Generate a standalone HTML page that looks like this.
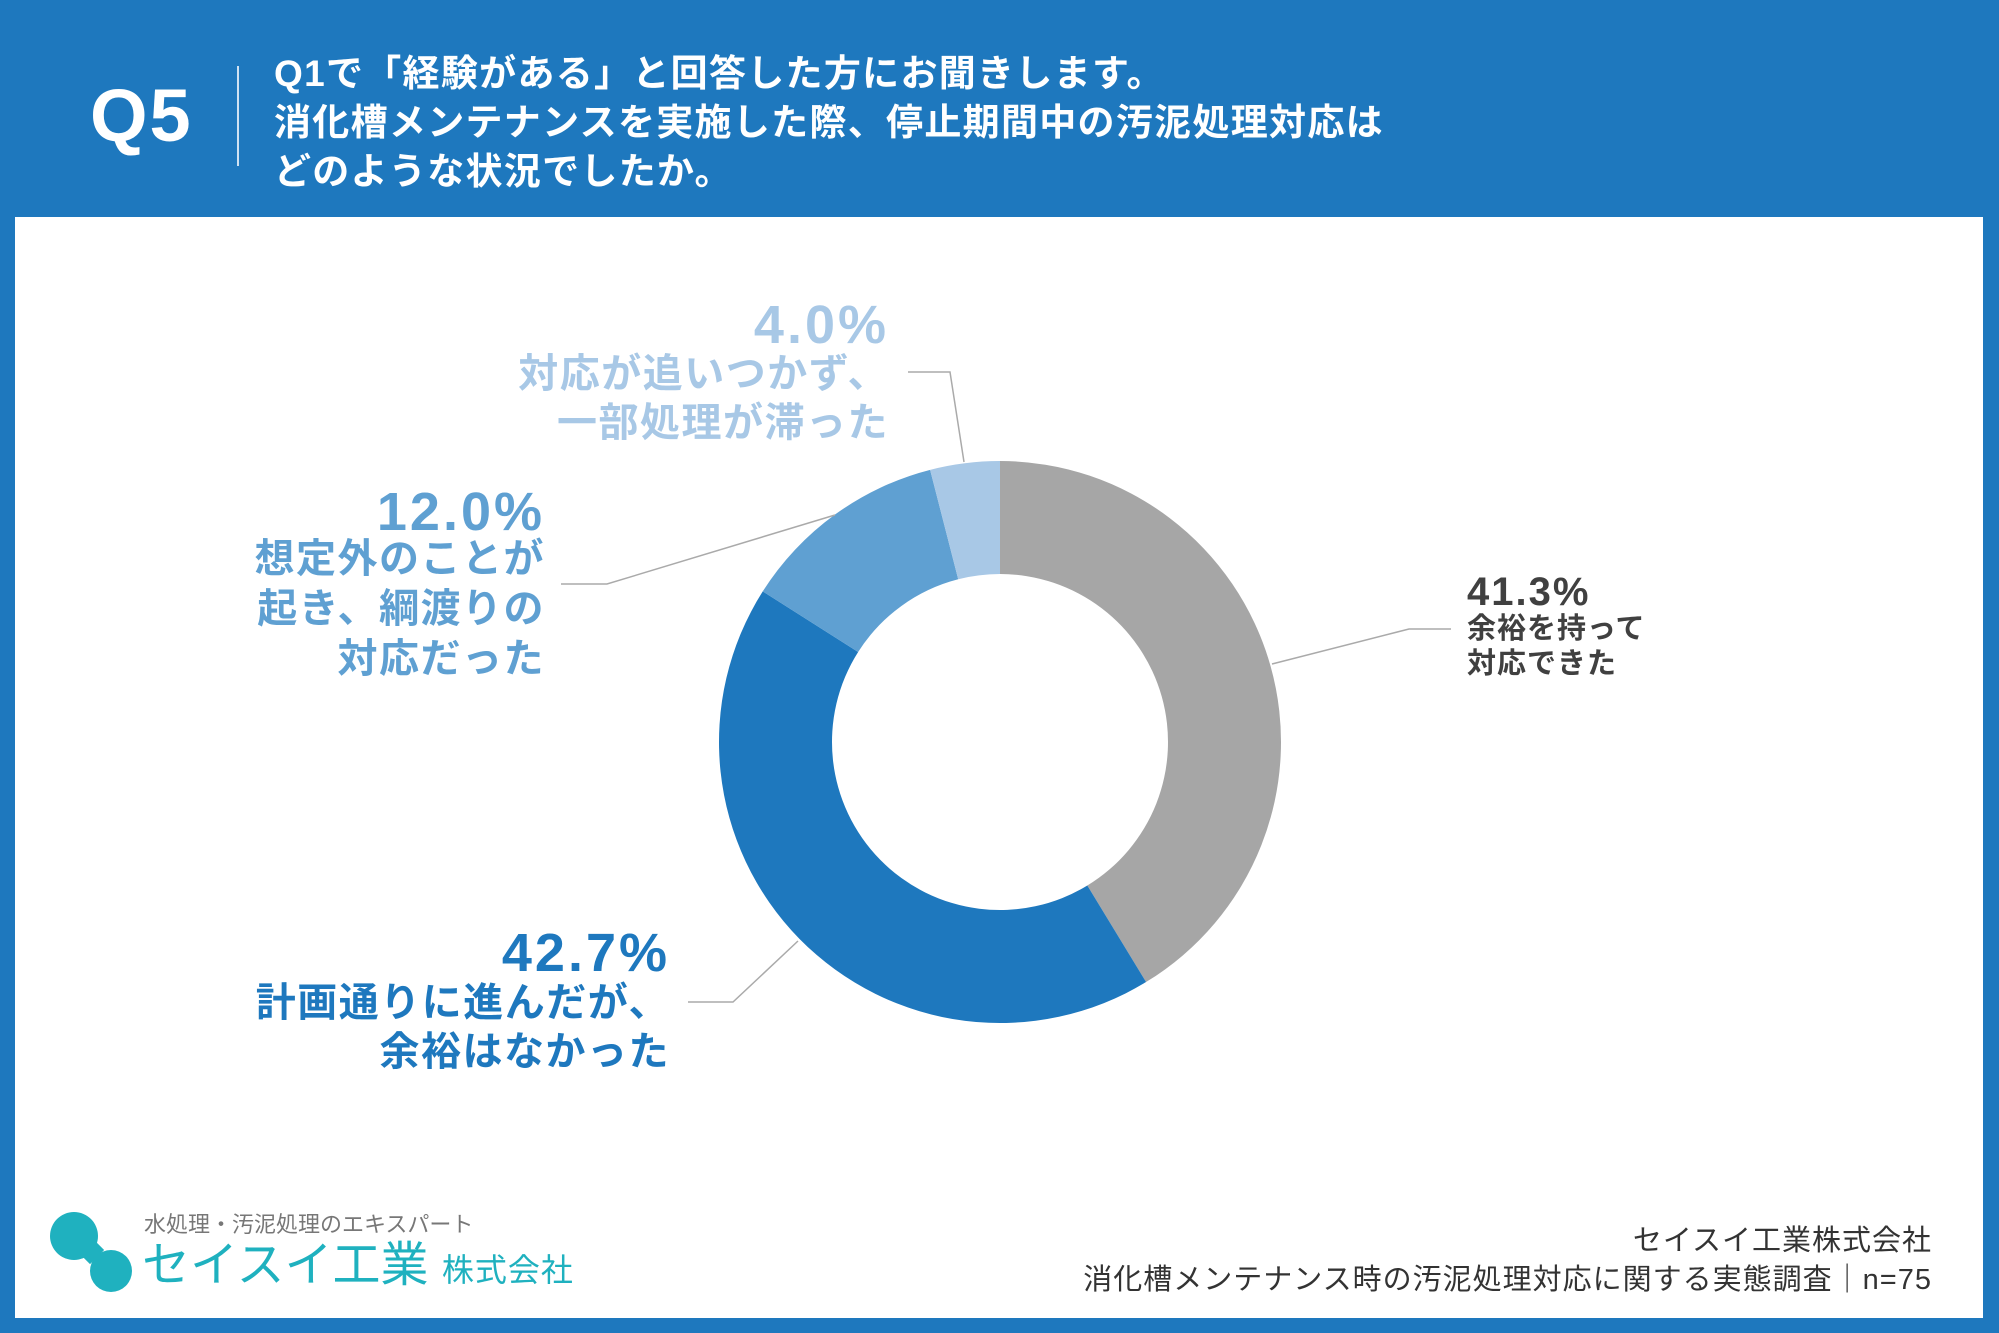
<!DOCTYPE html>
<html><head><meta charset="utf-8">
<style>
body{margin:0;width:1999px;height:1333px;background:#1e78be;overflow:hidden;font-family:"Liberation Sans","Noto Sans CJK JP",sans-serif;}
#panel{position:absolute;left:15px;top:217px;width:1968px;height:1101px;background:#fff;}
.t{position:absolute;white-space:nowrap;}
</style></head><body>
<div class="t" style="left:90px;top:74px;font-size:74px;font-weight:bold;color:#fff;line-height:84px;letter-spacing:2px;">Q5</div>
<div style="position:absolute;left:237px;top:66px;width:2px;height:100px;background:#cfe2f3;"></div>
<div class="t" style="left:274px;top:49px;font-size:37px;font-weight:bold;color:#fff;line-height:49px;letter-spacing:1.3px;">Q1で「経験がある」と回答した方にお聞きします。<br>消化槽メンテナンスを実施した際、停止期間中の汚泥処理対応は<br>どのような状況でしたか。</div>
<div id="panel"></div>
<svg id="chart" width="1999" height="1333" style="position:absolute;left:0;top:0;font-family:'Liberation Sans','Noto Sans CJK JP',sans-serif;"></svg>
<div class="t" style="right:67px;top:1222px;font-size:29px;color:#333;text-align:right;line-height:39px;letter-spacing:1px;">セイスイ工業株式会社<br>消化槽メンテナンス時の汚泥処理対応に関する実態調査｜n=75</div>
<div>
<div style="position:absolute;left:50px;top:1212px;width:48px;height:48px;border-radius:50%;background:#1fb1bf;"></div>
<div style="position:absolute;left:90px;top:1250px;width:42px;height:42px;border-radius:50%;background:#1fb1bf;"></div>
<div style="position:absolute;left:80px;top:1240px;width:20px;height:20px;background:#1fb1bf;transform:rotate(45deg);"></div>
<div class="t" style="left:144px;top:1207px;font-size:22px;color:#777;">水処理・汚泥処理のエキスパート</div>
<div class="t" style="left:142px;top:1238px;font-size:48px;color:#1fb1bf;line-height:56px;">セイスイ工業 <span style="font-size:32px;letter-spacing:1px;">株式会社</span></div>
</div>
<script>
const categories=["余裕を持って対応できた","計画通りに進んだが、余裕はなかった","想定外のことが起き、綱渡りの対応だった","対応が追いつかず、一部処理が滞った"];
const values=[41.3,42.7,12.0,4.0];
const colors=["#a6a6a6","#1e78be","#5fa0d2","#a8c8e6"];
const svg=document.getElementById('chart');
const NS="http://www.w3.org/2000/svg";
const cx=1000,cy=742,R=281,r=168;
const total=values.reduce((a,b)=>a+b,0);
function pt(a,rad){return [cx+rad*Math.sin(a),cy-rad*Math.cos(a)];}
let a0=0;
values.forEach((v,i)=>{
  const a1=a0+v/total*2*Math.PI;
  const large=(a1-a0)>Math.PI?1:0;
  const p1=pt(a0,R),p2=pt(a1,R),p3=pt(a1,r),p4=pt(a0,r);
  const p=document.createElementNS(NS,'path');
  p.setAttribute('d',`M${p1}A${R},${R} 0 ${large} 1 ${p2}L${p3}A${r},${r} 0 ${large} 0 ${p4}Z`);
  p.setAttribute('fill',colors[i]);
  
  
  svg.appendChild(p);
  a0=a1;
});
function txt(x,y,s,size,col,anchor,name,ls){
  const t=document.createElementNS(NS,'text');
  t.setAttribute('x',x);t.setAttribute('y',y);t.setAttribute('font-size',size);
  t.setAttribute('font-weight','bold');t.setAttribute('fill',col);t.setAttribute('text-anchor',anchor);
  t.setAttribute('dominant-baseline','central');
  t.setAttribute('letter-spacing',ls||0);
  
  
  t.textContent=s;svg.appendChild(t);
}
function line(pts,name){
  const l=document.createElementNS(NS,'polyline');
  l.setAttribute('points',pts.join(' '));l.setAttribute('fill','none');l.setAttribute('stroke','#aaa');l.setAttribute('stroke-width','1.5');
  
  
  svg.appendChild(l);
}
line([[1272,664],[1409,629],[1451,629]],'leader-1');
line([[798,941],[733,1002],[688,1002]],'leader-2');
line([[835,515],[607,584],[561,584]],'leader-3');
line([[964,462],[950,372],[908,372]],'leader-4');
const fmt=v=>v.toFixed(1)+'%';
txt(1467,592,fmt(values[0]),40,'#404040','start','label-value-1',2);
txt(1467,629,'余裕を持って',29,'#404040','start','label-text-1a',1);
txt(1467,664,'対応できた',29,'#404040','start','label-text-1b',1);
txt(670,953,fmt(values[1]),54,colors[1],'end','label-value-2',3);
txt(670,1003,'計画通りに進んだが、',40,colors[1],'end','label-text-2a',1.5);
txt(670,1052,'余裕はなかった',40,colors[1],'end','label-text-2b',1.5);
txt(545,512,fmt(values[2]),54,colors[2],'end','label-value-3',3);
txt(545,559,'想定外のことが',40,colors[2],'end','label-text-3a',1.5);
txt(545,609,'起き、綱渡りの',40,colors[2],'end','label-text-3b',1.5);
txt(545,659,'対応だった',40,colors[2],'end','label-text-3c',1.5);
txt(889,325,fmt(values[3]),54,colors[3],'end','label-value-4',3);
txt(889,374,'対応が追いつかず、',40,colors[3],'end','label-text-4a',1.5);
txt(889,423,'一部処理が滞った',40,colors[3],'end','label-text-4b',1.5);
</script>
</body></html>
